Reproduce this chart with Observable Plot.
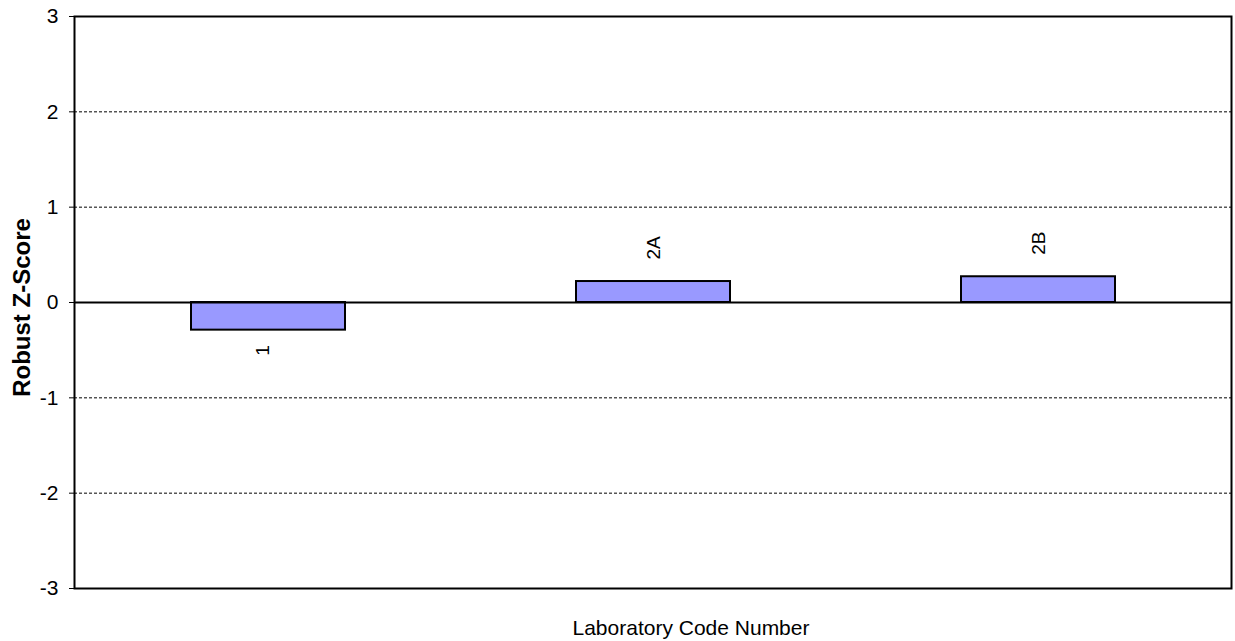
<!DOCTYPE html>
<html>
<head>
<meta charset="utf-8">
<script src="https://cdn.jsdelivr.net/npm/d3@7"></script>
<script src="https://cdn.jsdelivr.net/npm/@observablehq/plot@0.6"></script>
<style>
  html, body { margin: 0; padding: 0; background: #fff; }
  #chart svg { font-family: "Liberation Sans", Arial, sans-serif; }
</style>
</head>
<body>
<div id="chart"></div>
<script>
const labs = ["1", "2A", "2B"];
const zScores = [-0.29, 0.22, 0.27];
const yTicks = [-3, -2, -1, 0, 1, 2, 3];
const gridValues = [-2, -1, 1, 2];
const xTitle = "Laboratory Code Number";
const yTitle = "Robust Z-Score";

const data = labs.map((lab, i) => ({lab, z: zScores[i]}));

const chart = Plot.plot({
  width: 1235,
  height: 641,
  marginLeft: 74,
  marginTop: 16,
  marginRight: 4,
  marginBottom: 53,
  style: {fontFamily: "Liberation Sans, Arial, sans-serif", fontSize: "21px", color: "#000", background: "#fff"},
  x: {domain: labs, paddingInner: 0.6, paddingOuter: 0.3},
  y: {domain: [-3, 3]},
  marks: [
    Plot.ruleY(gridValues, {stroke: "#000", strokeWidth: 1, strokeDasharray: "3,2"}),
    Plot.barY(data, {x: "lab", y: "z", fill: "#9999FF", stroke: "#000", strokeWidth: 2}),
    Plot.ruleY([0], {stroke: "#000", strokeWidth: 2}),
    Plot.text(data.filter(d => d.z >= 0), {x: "lab", y: "z", text: "lab", rotate: -90, textAnchor: "start", dy: -22, fontSize: 19, fill: "#000"}),
    Plot.text(data.filter(d => d.z < 0), {x: "lab", y: "z", text: "lab", rotate: -90, textAnchor: "end", dy: 15, dx: -6, fontSize: 19, fill: "#000"}),
    Plot.axisY({ticks: yTicks, tickSize: 5, tickPadding: 11, fontSize: 21, tickFormat: d => String(d), label: null}),
    Plot.axisX({ticks: [], tickSize: 0, label: null}),
    Plot.text([yTitle], {frameAnchor: "left", textAnchor: "middle", lineAnchor: "middle", rotate: -90, dx: -52, dy: 5, fontSize: 24, fontWeight: "bold", fill: "#000"}),
    Plot.text([xTitle], {frameAnchor: "bottom", textAnchor: "middle", lineAnchor: "middle", dx: 38, dy: 40, fontSize: 21, fill: "#000"}),
    Plot.frame({stroke: "#000", strokeWidth: 2})
  ]
});
document.getElementById("chart").appendChild(chart);
</script>
</body>
</html>
